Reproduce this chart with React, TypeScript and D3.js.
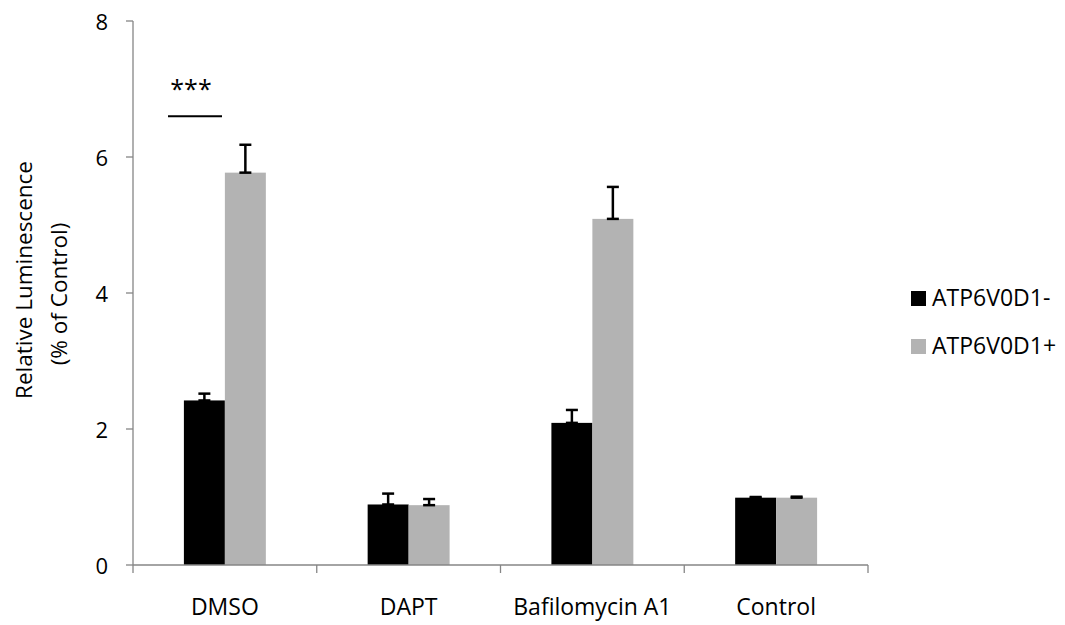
import * as d3 from "d3";
import React from "react";

const categories = ["DMSO", "DAPT", "Bafilomycin A1", "Control"];
const seriesNames = ["ATP6V0D1-", "ATP6V0D1+"];
const minusValues = [2.42, 0.89, 2.09, 0.99];
const minusErrors = [0.1, 0.16, 0.19, 0.01];
const plusValues = [5.77, 0.88, 5.09, 0.99];
const plusErrors = [0.41, 0.09, 0.47, 0.015];
const yTicks = [0, 2, 4, 6, 8];
const colors = ["#000000", "#b3b3b3"];

const App = () => {
  const width = 1065;
  const height = 625;
  const font = "'Open Sans', sans-serif";
  const fs = 23;

  const xScale = d3.scaleBand().domain(categories).range([133, 868]).padding(0);
  const yScale = d3.scaleLinear().domain([0, 8]).range([565, 21]);

  const bw = xScale.bandwidth();
  const groupW = bw * 0.446;
  const inner = d3
    .scaleBand()
    .domain(seriesNames)
    .range([(bw - groupW) / 2, (bw + groupW) / 2]);

  const series = [
    { name: seriesNames[0], values: minusValues, errors: minusErrors, color: colors[0] },
    { name: seriesNames[1], values: plusValues, errors: plusErrors, color: colors[1] },
  ];

  const axisColor = "#868686";
  const boundaries = [...categories.map((c) => xScale(c) as number), 868];
  const dmsoX = xScale("DMSO") as number;

  return (
    <div style={{ position: "absolute", left: 0, top: 0 }}>
      <svg width={width} height={height} style={{ display: "block", background: "#fff" }}>
        {/* y title */}
        <text
          transform={`translate(23,280) rotate(-90)`}
          textAnchor="middle"
          dominantBaseline="central"
          fontFamily={font}
          fontSize={22.5}
        >
          Relative Luminescence
        </text>
        <text
          transform={`translate(58,294) rotate(-90)`}
          textAnchor="middle"
          dominantBaseline="central"
          fontFamily={font}
          fontSize={22.5}
        >
          (% of Control)
        </text>

        {/* bars */}
        {series.map((s) =>
          categories.map((c, i) => (
            <rect
              key={s.name + c}
              x={(xScale(c) as number) + (inner(s.name) as number)}
              y={yScale(s.values[i])}
              width={inner.bandwidth()}
              height={yScale(0) - yScale(s.values[i])}
              fill={s.color}
            />
          ))
        )}

        {/* error bars */}
        {series.map((s) =>
          categories.map((c, i) => {
            const cx = (xScale(c) as number) + (inner(s.name) as number) + inner.bandwidth() / 2;
            const y0 = yScale(s.values[i]);
            const y1 = yScale(s.values[i] + s.errors[i]);
            return (
              <g key={"e" + s.name + c} stroke="#000" strokeWidth={2.5}>
                <line x1={cx} x2={cx} y1={y0} y2={y1} />
                <line x1={cx - 6} x2={cx + 6} y1={y1} y2={y1} />
                <line x1={cx - 6} x2={cx + 6} y1={y0} y2={y0} />
              </g>
            );
          })
        )}

        {/* y axis */}
        <line x1={133} x2={133} y1={yScale(0)} y2={yScale(8)} stroke={axisColor} strokeWidth={1.3} />
        {yTicks.map((t) => (
          <g key={t}>
            <line x1={126} x2={133} y1={yScale(t)} y2={yScale(t)} stroke={axisColor} strokeWidth={1.3} />
            <text
              x={108}
              y={yScale(t)}
              textAnchor="end"
              dominantBaseline="central"
              fontFamily={font}
              fontSize={22}
            >
              {t}
            </text>
          </g>
        ))}

        {/* x axis */}
        <line x1={133} x2={868} y1={yScale(0)} y2={yScale(0)} stroke={axisColor} strokeWidth={1.3} />
        {boundaries.map((b, i) => (
          <line key={i} x1={b} x2={b} y1={yScale(0)} y2={yScale(0) + 8} stroke={axisColor} strokeWidth={1.3} />
        ))}
        {categories.map((c) => (
          <text
            key={c}
            x={(xScale(c) as number) + bw / 2}
            y={615}
            textAnchor="middle"
            fontFamily={font}
            fontSize={fs}
          >
            {c}
          </text>
        ))}

        {/* significance */}
        <line x1={dmsoX + 35} x2={dmsoX + 89} y1={yScale(6.6)} y2={yScale(6.6)} stroke="#000" strokeWidth={2} />
        <text x={dmsoX + 58} y={98} textAnchor="middle" fontFamily={font} fontSize={25}>
          ***
        </text>

        {/* legend */}
        {series.map((s, i) => (
          <g key={s.name} transform={`translate(911,${291 + i * 48})`}>
            <rect x={0} y={0} width={15} height={15} fill={s.color} />
            <text x={21} y={15} fontFamily={font} fontSize={fs}>
              {s.name}
            </text>
          </g>
        ))}
      </svg>
    </div>
  );
};

export default App;
